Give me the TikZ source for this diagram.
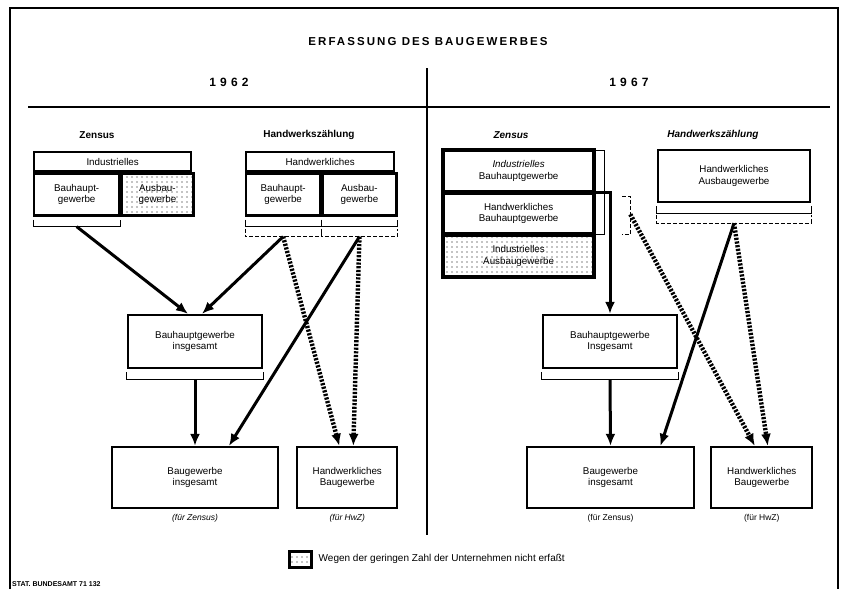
\documentclass[tikz,border=0pt]{standalone}
\usepackage{fontspec}
\setmainfont{Liberation Sans}
\newfontfamily\spacedfont[LetterSpace=18]{Liberation Sans}
\newfontfamily\yearfont[LetterSpace=35]{Liberation Sans}
\usetikzlibrary{arrows.meta,positioning,patterns}
\pgfdeclarepatternformonly{sparsedots}{\pgfqpoint{-1pt}{-1pt}}{\pgfqpoint{5pt}{5pt}}{\pgfqpoint{5pt}{5pt}}%
  {\pgfpathcircle{\pgfqpoint{2pt}{2pt}}{0.7pt}\pgfusepath{fill}}

\begin{document}
\begin{tikzpicture}[
    x=1pt,y=-1pt,
    font=\fontsize{9.8}{11.5}\selectfont,
    box/.style={draw,line width=2.3pt,align=center,inner sep=1pt},
    cell/.style={box,anchor=north west},
    dotcell/.style={cell,pattern=sparsedots},
    frame/.style={line width=3.2pt},
    brace/.style={line width=0.9pt},
    dashbrace/.style={line width=0.9pt,dash pattern=on 4pt off 2pt},
    arrow/.style={-{Latex[length=12pt,width=10pt]},line width=3pt},
    dotarrow/.style={arrow,line width=4.4pt,dash pattern=on 2.2pt off 1.5pt},
    head/.style={font=\bfseries\fontsize{10}{12}\selectfont},
    note/.style={font=\itshape\fontsize{8.5}{10}\selectfont,inner sep=1pt}
]
\useasboundingbox (0,0) rectangle (850,589);
\draw[line width=1.2pt] (10,589) -- (10,8) -- (838,8) -- (838,589);
\draw[line width=1.5pt] (28,107) -- (830,107);
\draw[line width=1.2pt] (427,68) -- (427,535);

\node[font=\spacedfont\bfseries\fontsize{11.5}{13}\selectfont] (title) at (428,42) {ERFASSUNG DES BAUGEWERBES};
\node[font=\yearfont\bfseries\fontsize{12}{13}\selectfont] (y62) at (229,82) {1962};
\node[font=\yearfont\bfseries\fontsize{12}{13}\selectfont] (y67) at (629,82) {1967};

% 1962
\node[head] (z62) at (97,135) {Zensus};
\node[head] (hw62) at (309,135) {Handwerkszählung};
\node[cell,minimum width=157,minimum height=19] (zind) at (33,151) {Industrielles};
\node[cell,minimum width=85,minimum height=42] (zbau) at (zind.south west) {Bauhaupt-\\gewerbe};
\node[dotcell,minimum width=72,minimum height=42] (zaus) at (zbau.north east) {Ausbau-\\gewerbe};
\node[cell,minimum width=148,minimum height=19] (hind) at (245,151) {Handwerkliches};
\node[cell,minimum width=74,minimum height=42] (hbau) at (hind.south west) {Bauhaupt-\\gewerbe};
\node[cell,minimum width=74,minimum height=42] (haus) at (hbau.north east) {Ausbau-\\gewerbe};
\draw[brace] ([yshift=-3pt]zbau.south west) -- ++(0,7) -| ([yshift=-3pt]zbau.south east);
\draw[brace] ([yshift=-3pt]hbau.south west) -- ++(0,7) -| ([yshift=-3pt]hbau.south east);
\draw[brace] ([yshift=-3pt]haus.south west) -- ++(0,7) -| ([yshift=-3pt]haus.south east);
\draw[dashbrace] ([yshift=-12pt]hbau.south west) -- ++(0,8) -| ([yshift=-12pt]hbau.south east);
\draw[dashbrace] ([yshift=-12pt]haus.south west) -- ++(0,8) -| ([yshift=-12pt]haus.south east);
\coordinate (zbauc) at ([yshift=-10pt]zbau.south);
\coordinate (hbauc) at ([yshift=-20pt]hbau.south);
\coordinate (hausc) at ([yshift=-20pt]haus.south);

\node[box,minimum width=134,minimum height=53] (bhl) at (195,341.5) {Bauhauptgewerbe\\insgesamt};
\draw[brace] ([yshift=-3pt]bhl.south west) -- ++(0,7) -| ([yshift=-3pt]bhl.south east);
\coordinate (bhlc) at ([yshift=-10pt]bhl.south);
\node[box,minimum width=166,minimum height=61] (bgl) at (195,477.5) {Baugewerbe\\insgesamt};
\node[box,right=17pt of bgl,minimum width=100,minimum height=61] (hbl) {Handwerkliches\\Baugewerbe};
\node[note,below=4pt of bgl] (fzl) {(für Zensus)};
\node[note,below=4pt of hbl] (fhl) {(für HwZ)};

\draw[dotarrow] (hbauc) -- ([xshift=-8pt]hbl.north);
\draw[dotarrow] (hausc) -- ([xshift=6pt]hbl.north);
\draw[arrow] (zbauc) -- ([xshift=-7pt]bhl.north);
\draw[arrow] (hbauc) -- ([xshift=7pt]bhl.north);
\draw[arrow] (hausc) -- ([xshift=34pt]bgl.north);
\draw[arrow] (bhlc) -- (bgl.north);

% 1967
\node[head,font=\bfseries\itshape\fontsize{10}{12}\selectfont] (z67) at (511,135) {Zensus};
\node[head,font=\bfseries\itshape\fontsize{10}{12}\selectfont] (hw67) at (713,135) {Handwerkszählung};
\node[cell,minimum width=149,minimum height=40] (rind) at (443,150) {\textit{Industrielles}\\Bauhauptgewerbe};
\node[cell,minimum width=149,minimum height=40] (rhand) at (rind.south west) {Handwerkliches\\Bauhauptgewerbe};
\node[dotcell,minimum width=149,minimum height=40] (raus) at (rhand.south west) {Industrielles\\Ausbaugewerbe};
\draw[frame] (rind.north west) rectangle (raus.south east);
\draw[brace] ([xshift=2pt]rind.north east) -- ++(8,0) |- ([xshift=2pt]rhand.south east);
\draw[dashbrace] ([xshift=28pt,yshift=-4pt]rhand.north east) -- ++(8,0) |- ([xshift=28pt]rhand.south east);
\coordinate (rdbc) at ([xshift=36pt,yshift=-22pt]rhand.north east);
\node[box,minimum width=152,minimum height=52] (rhw) at (734,176) {Handwerkliches\\Ausbaugewerbe};
\draw[brace] ([yshift=-3pt]rhw.south west) -- ++(0,7) -| ([yshift=-3pt]rhw.south east);
\draw[dashbrace] ([yshift=-12pt]rhw.south west) -- ++(0,8) -| ([yshift=-12pt]rhw.south east);
\coordinate (rhwc) at ([yshift=-20pt]rhw.south);

\node[box,minimum width=134,minimum height=53] (rbh) at (610,341.5) {Bauhauptgewerbe\\Insgesamt};
\draw[brace] ([yshift=-3pt]rbh.south west) -- ++(0,7) -| ([yshift=-3pt]rbh.south east);
\coordinate (rbhc) at ([yshift=-10pt]rbh.south);
\node[box,minimum width=167,minimum height=61] (rbg) at (610.5,477.5) {Baugewerbe\\insgesamt};
\node[box,right=15pt of rbg,minimum width=101,minimum height=61] (rhb) {Handwerkliches\\Baugewerbe};
\node[note,font=\fontsize{8.5}{10}\selectfont,below=4pt of rbg] (fzr) {(für Zensus)};
\node[note,font=\fontsize{8.5}{10}\selectfont,below=4pt of rhb] (fhr) {(für HwZ)};

\draw[dotarrow] (rdbc) -- ([xshift=-7pt]rhb.north);
\draw[dotarrow] (rhwc) -- ([xshift=6pt]rhb.north);
\draw[arrow] (rhand.north east) -| (rbh.north);
\draw[arrow] (rhwc) -- ([xshift=50pt]rbg.north);
\draw[arrow] (rbhc) -- (rbg.north);

% legend
\node[box,line width=3pt,pattern=sparsedots,minimum width=22,minimum height=16] (lgbox) at (300,559) {};
\node[right=6pt of lgbox,inner sep=0pt,font=\fontsize{10}{12}\selectfont] (lgtext) {Wegen der geringen Zahl der Unternehmen nicht erfaßt};
\node[anchor=west,inner sep=0pt,font=\bfseries\fontsize{7}{8}\selectfont] (src) at (12,584) {STAT. BUNDESAMT 71 132};
\end{tikzpicture}
\end{document}
